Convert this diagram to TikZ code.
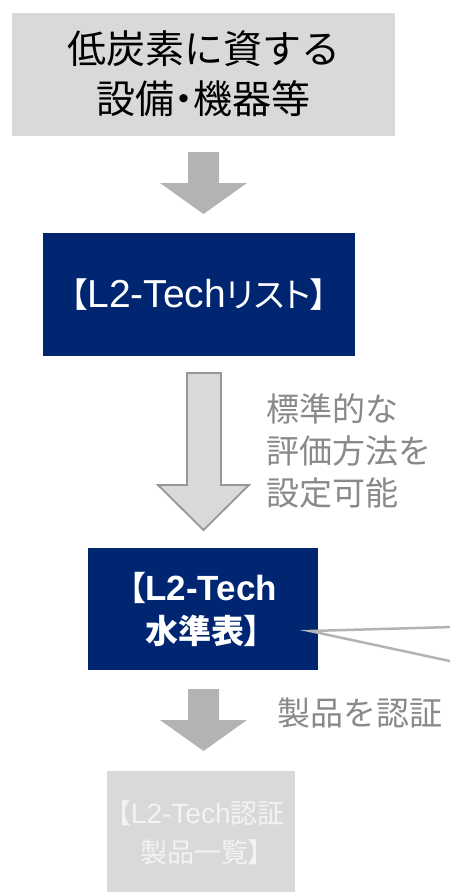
\documentclass[tikz,border=0pt]{standalone}
\usepackage{fontspec}
\setmainfont{Liberation Sans}
\newfontfamily\lat{Liberation Sans}
\newfontfamily\jp{Noto Sans CJK JP}
\newfontfamily\jpp[RawFeature=+palt]{Noto Sans CJK JP}
\definecolor{navy}{RGB}{0,37,113}
\definecolor{boxgray}{RGB}{217,217,217}
\definecolor{arrowgray}{RGB}{179,179,179}
\definecolor{labelgray}{RGB}{137,137,137}
\definecolor{edgegray}{RGB}{150,150,150}
\definecolor{paletext}{RGB}{243,243,243}
\tikzset{
  graybox/.style={fill=boxgray, draw=none, inner sep=0pt, align=center},
  navybox/.style={fill=navy, draw=none, inner sep=0pt, align=center, text=white},
  solidarrow/.style={fill=arrowgray, draw=none},
  hollowarrow/.style={fill=boxgray, draw=edgegray, line width=1.8pt, line join=miter},
  sidelabel/.style={text=labelgray, inner sep=0pt, align=left, anchor=west},
  callout/.style={draw=arrowgray, line width=2.5pt}
}
\begin{document}
\begin{tikzpicture}[x=1pt,y=-1pt]
\useasboundingbox (0,0) rectangle (450,892);
% boxes
\node[graybox, minimum width=383pt, minimum height=123pt,
      font=\jp\fontsize{39}{50}\selectfont] (top) at (203.5,74)
  {低炭素に資する\\設備{\jpp ・}機器等};
\node[navybox, minimum width=312pt, minimum height=123pt,
      font=\jpp\fontsize{34}{34}\selectfont] (list) at (199,294.5)
  {【{\lat\fontsize{39}{39}\selectfont L2-Tech}リスト】};
\node[navybox, minimum width=230pt, minimum height=122pt,
      font=\jpp\bfseries\fontsize{33}{43}\selectfont] (level) at (203,609)
  {【{\lat\bfseries\fontsize{35}{43}\selectfont L2-Tech}\\水準表】};
\node[graybox, text=paletext, minimum width=188pt, minimum height=123pt,
      font=\jpp\fontsize{27}{39}\selectfont] (cert) at (201,832.5)
  {【{\lat\fontsize{28}{39}\selectfont L2-Tech}認証\\製品一覧】};
% labels
\node[sidelabel, font=\jp\fontsize{33}{42}\selectfont] (lab1) at (266,451)
  {標準的な\\評価方法を\\設定可能};
\node[sidelabel, font=\jp\fontsize{33}{42}\selectfont] (lab2) at (277,713)
  {製品を認証};
% block arrows
\path[solidarrow] (188,152) -- (219,152) -- (219,183) -- (247,183) -- (203.5,214)
  -- (160,183) -- (188,183) -- cycle;
\path[hollowarrow] (187,373) -- (221,373) -- (221,485) -- (249,485) -- (203.5,530)
  -- (158,485) -- (187,485) -- cycle;
\path[solidarrow] (188,689) -- (219,689) -- (219,720) -- (247,720) -- (203.5,751)
  -- (160,720) -- (188,720) -- cycle;
% callout lines
\coordinate (cp) at (310,631);
\coordinate (ct) at (452,627);
\coordinate (cb) at (452,661.5);
\draw[callout] (ct) -- (cp) -- (cb);
\end{tikzpicture}
\end{document}
